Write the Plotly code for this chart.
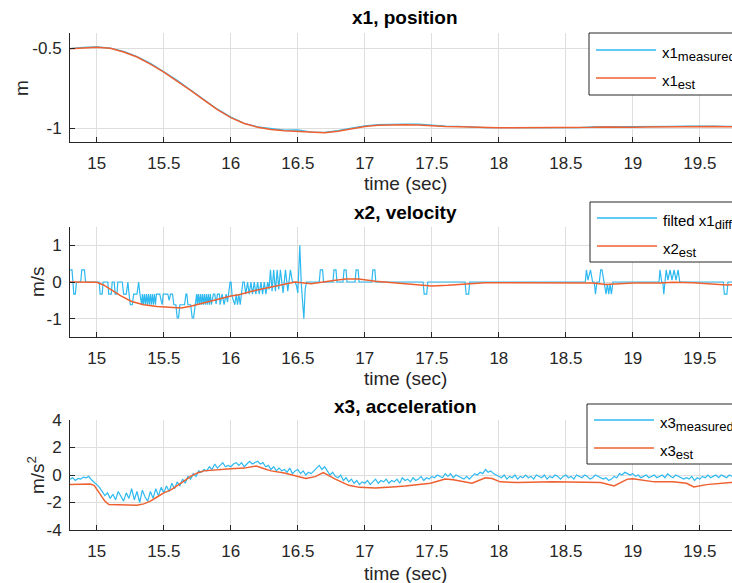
import plotly.graph_objects as go
import numpy as np

W, H = 732, 583
BLUE = "#2EB9F0"
ORANGE = "#EE6030"
DARK = "#262626"
GRID = "#dedede"
FONT = "Liberation Sans, Arial, sans-serif"

# ---------------- x1, position ----------------
pos_t = [14.8, 14.9, 15.0, 15.1, 15.2, 15.3, 15.4, 15.5, 15.6, 15.7, 15.8, 15.9,
         16.0, 16.1, 16.2, 16.3, 16.4, 16.5, 16.6, 16.7, 16.8, 16.9, 17.0, 17.1,
         17.2, 17.3, 17.4, 17.5, 17.6, 17.7, 17.8, 17.9, 18.0, 18.1, 18.2, 18.3,
         18.4, 18.5, 18.6, 18.7, 18.8, 18.9, 19.0, 19.1, 19.2, 19.3, 19.4, 19.5,
         19.6, 19.7, 19.8]
x1_est = [-0.505, -0.498, -0.495, -0.502, -0.525, -0.556, -0.600, -0.650, -0.705, -0.765,
          -0.825, -0.885, -0.935, -0.972, -0.995, -1.010, -1.017, -1.020, -1.027, -1.030,
          -1.020, -1.003, -0.990, -0.982, -0.979, -0.980, -0.981, -0.987, -0.990, -0.992,
          -0.995, -0.998, -0.999, -0.999, -0.999, -0.999, -0.999, -0.999, -0.999, -0.996,
          -0.993, -0.995, -0.995, -0.994, -0.993, -0.992, -0.990, -0.989, -0.990, -0.992,
          -0.993]
x1_meas = [-0.503, -0.495, -0.493, -0.500, -0.521, -0.553, -0.596, -0.647, -0.702, -0.762,
           -0.822, -0.882, -0.932, -0.970, -0.992, -1.004, -1.013, -1.012, -1.025, -1.027,
           -1.016, -1.000, -0.986, -0.978, -0.975, -0.976, -0.976, -0.984, -0.988, -0.989,
           -0.994, -0.997, -0.998, -0.998, -0.998, -0.998, -0.998, -0.998, -0.997, -0.992,
           -0.992, -0.993, -0.993, -0.992, -0.990, -0.990, -0.988, -0.987, -0.988, -0.990,
           -0.991]

# ---------------- x2, velocity ----------------
vel_t = [14.800, 14.815, 14.822, 14.828, 14.840, 14.848, 14.880, 14.888, 14.908, 14.916,
         15.018, 15.025, 15.040, 15.047, 15.082, 15.089, 15.108, 15.115, 15.130, 15.137,
         15.150, 15.157, 15.190, 15.200, 15.220, 15.232, 15.240, 15.250, 15.265, 15.275,
         15.300, 15.312, 15.322, 15.335,
         15.3400, 15.3475, 15.3550, 15.3625, 15.3700, 15.3775, 15.3850, 15.3925,
         15.4000, 15.4075, 15.4150, 15.4225, 15.4300, 15.4375, 15.4450,
         15.450, 15.470, 15.480, 15.488, 15.495, 15.530, 15.540, 15.550, 15.565, 15.575,
         15.590, 15.600, 15.610, 15.620, 15.655, 15.665, 15.672, 15.680, 15.700, 15.712,
         15.722, 15.735, 15.745,
         15.7500, 15.7575, 15.7650, 15.7725, 15.7800, 15.7875, 15.7950, 15.8025,
         15.8100, 15.8175, 15.8250, 15.8325, 15.8400, 15.8475, 15.8550,
         15.870, 15.880, 15.890, 15.900, 15.915, 15.920, 15.935, 15.950, 15.965, 15.975,
         15.985, 15.995, 16.002, 16.010, 16.030, 16.040, 16.050, 16.060, 16.070, 16.080,
         16.090, 16.100, 16.112, 16.125, 16.137, 16.150, 16.162, 16.175, 16.187, 16.200,
         16.212, 16.225, 16.237, 16.250, 16.262, 16.275, 16.285, 16.296, 16.308, 16.320,
         16.333, 16.346, 16.358, 16.370, 16.390, 16.408, 16.425, 16.445, 16.460, 16.480,
         16.490, 16.500, 16.515, 16.525, 16.532, 16.545, 16.555, 16.565,
         16.660, 16.668, 16.685, 16.692, 16.762, 16.770, 16.785, 16.792,
         16.837, 16.845, 16.860, 16.867, 16.927, 16.935, 16.950, 16.957,
         17.052, 17.060, 17.075, 17.082, 17.435, 17.443, 17.462, 17.470,
         17.748, 17.756, 17.775, 17.783,
         18.645, 18.654, 18.665, 18.684, 18.700, 18.712, 18.721, 18.732, 18.750, 18.760,
         18.770, 18.785, 18.800, 18.810, 18.820, 18.830, 18.840, 18.852,
         19.195, 19.203, 19.215, 19.224, 19.231, 19.240, 19.249, 19.262, 19.278, 19.292,
         19.308, 19.322, 19.338, 19.350,
         19.675, 19.683, 19.702, 19.710, 19.800]
vel_meas = [0.33, 0.33, 0.0, -0.33, -0.33, 0.0, 0.0, 0.33, 0.33, 0.0,
            0.0, -0.33, -0.33, 0.0, 0.0, -0.33, -0.33, 0.0, 0.0, -0.33,
            -0.33, 0.0, 0.0, -0.33, -0.33, 0.0, -0.30, -0.62, -0.62, -0.33,
            -0.33, 0.0, -0.33, -0.62,
            -0.33, -0.62, -0.33, -0.62, -0.33, -0.62, -0.33, -0.62,
            -0.33, -0.62, -0.33, -0.62, -0.33, -0.62, -0.33,
            -0.33, -0.33, -0.50, -0.62, -0.33, -0.33, -0.50, -0.33, -0.33, -0.62,
            -0.62, -0.98, -0.98, -0.62, -0.62, -0.33, -0.33, -0.62, -0.62, -0.98,
            -0.98, -0.62, -0.33,
            -0.62, -0.33, -0.62, -0.33, -0.62, -0.33, -0.62, -0.33,
            -0.62, -0.33, -0.62, -0.33, -0.62, -0.33, -0.62,
            -0.33, -0.33, -0.60, -0.33, -0.33, -0.62, -0.33, -0.62, -0.33, -0.55,
            -0.33, 0.0, 0.0, -0.40, -0.62, -0.33, -0.62, -0.33, -0.62, -0.33,
            0.0, 0.0, -0.33, 0.0, -0.33, 0.0, -0.33, 0.0, -0.33, 0.0,
            -0.33, 0.0, -0.33, 0.0, -0.33, 0.0, -0.20, 0.33, -0.25, 0.33,
            -0.25, 0.33, -0.20, 0.33, -0.30, 0.33, -0.25, 0.33, 0.0, 0.0,
            -0.10, -0.30, 1.0, 0.0, -0.30, -1.0, -0.20, 0.0,
            0.0, 0.33, 0.33, 0.0, 0.0, 0.33, 0.33, 0.0,
            0.0, 0.33, 0.33, 0.0, 0.0, 0.33, 0.33, 0.0,
            0.0, 0.33, 0.33, 0.0, 0.0, -0.33, -0.33, 0.0,
            0.0, -0.33, -0.33, 0.0,
            0.0, 0.33, 0.05, 0.33, 0.0, 0.0, -0.33, 0.0, 0.0, 0.33,
            0.33, 0.0, -0.33, -0.05, -0.33, -0.05, -0.33, 0.0,
            0.0, 0.33, 0.0, 0.0, -0.33, 0.0, 0.33, 0.05, 0.33, 0.05,
            0.33, 0.05, 0.33, 0.0,
            0.0, -0.33, -0.33, 0.0, 0.0]

vel_est_t = [14.8, 14.95, 15.0, 15.05, 15.11, 15.18, 15.26, 15.35, 15.45, 15.535,
             15.63, 15.7, 15.784, 15.9, 16.0, 16.06, 16.15, 16.284, 16.4, 16.48,
             16.6, 16.68, 16.78, 16.86, 16.955, 17.08, 17.3, 17.5, 17.62, 17.75,
             17.9, 18.0, 18.5, 18.7, 18.8, 18.9, 19.0, 19.2, 19.3, 19.45,
             19.6, 19.7, 19.8]
vel_est = [0.0, 0.0, -0.01, -0.08, -0.22, -0.38, -0.53, -0.62, -0.67, -0.69,
           -0.71, -0.66, -0.58, -0.47, -0.38, -0.35, -0.26, -0.15, -0.06, 0.0,
           -0.05, 0.0, 0.05, 0.08, 0.08, 0.02, -0.05, -0.11, -0.09, -0.05,
           -0.02, -0.02, -0.02, -0.03, -0.07, -0.05, -0.03, -0.03, -0.01, -0.02,
           -0.05, -0.08, -0.06]

# ---------------- x3, acceleration ----------------
acc_t0, acc_dt = 14.80, 0.02
acc_meas = [-0.3, -0.2, -0.4, -0.25, -0.3, -0.15, -0.2, -0.1, -0.35, -0.5,
            -0.7, -0.9, -1.2, -1.5, -1.3, -1.7, -1.4, -1.8, -1.2, -1.6,
            -1.9, -1.3, -1.7, -1.0, -1.8, -1.2, -2.0, -1.1, -1.6, -1.9,
            -1.2, -1.7, -1.0, -1.5, -0.9, -1.3, -0.8, -1.2, -0.6, -1.0,
            -0.5, -0.8, -0.3, -0.6, -0.1, -0.3, 0.1, -0.1, 0.3, 0.2,
            0.4, 0.3, 0.6, 0.4, 0.8, 0.5, 0.7, 0.9, 0.6, 0.7,
            0.6, 0.8, 0.9, 0.7, 0.9, 0.6, 0.8, 1.0, 0.8, 0.9,
            1.0, 0.8, 0.9, 0.6, 0.7, 0.4, 0.6, 0.3, 0.5, 0.3,
            0.4, 0.2, 0.5, 0.1, 0.3, 0.4, 0.1, 0.3, 0.0, 0.2,
            0.1, 0.3, 0.5, 0.7, 0.4, 0.6, 0.3, 0.0, 0.2, -0.1,
            -0.2, 0.0, -0.4, -0.2, -0.5, -0.3, -0.6, -0.4, -0.7, -0.5,
            -0.6, -0.4, -0.7, -0.5, -0.3, -0.6, -0.4, -0.5, -0.3, -0.6,
            -0.4, -0.5, -0.3, -0.6, -0.2, -0.4, -0.3, -0.5, -0.2, -0.4,
            -0.3, -0.1, -0.4, -0.2, -0.3, -0.1, -0.2, 0.0, -0.1, -0.2,
            0.1, -0.1, 0.1, -0.2, 0.0, -0.1, -0.2, -0.3, -0.1, -0.3,
            -0.1, 0.1, 0.0, 0.2, 0.1, 0.4, 0.2, 0.3, 0.1, 0.0,
            -0.1, -0.2, 0.0, -0.3, -0.1, -0.2, 0.0, -0.3, -0.1, -0.2,
            0.0, -0.2, -0.1, -0.3, 0.0, -0.1, -0.2, 0.0, -0.3, -0.1,
            -0.2, 0.0, -0.1, -0.3, -0.1, 0.0, -0.2, -0.1, -0.3, 0.0,
            -0.1, -0.2, 0.0, -0.1, -0.3, -0.2, 0.0, -0.1, -0.2, -0.3,
            -0.2, -0.4, -0.3, -0.1, -0.2, 0.1, 0.0, 0.2, 0.1, 0.0,
            0.1, -0.1, 0.0, -0.2, -0.1, 0.0, -0.2, -0.1, 0.0, -0.2,
            -0.1, 0.0, -0.2, 0.1, -0.1, -0.2, 0.0, -0.1, -0.2, -0.3,
            -0.2, -0.3, -0.1, -0.4, -0.2, -0.3, -0.1, -0.2, 0.0, -0.2,
            -0.1, 0.0, -0.2, 0.0, -0.1, -0.2, 0.0, -0.1, -0.2, 0.0,
            -0.1]
acc_meas_t = list(np.round(acc_t0 + acc_dt * np.arange(len(acc_meas)), 3))

acc_est_t = [14.80, 14.95, 14.98, 15.02, 15.06, 15.09, 15.15, 15.20, 15.30, 15.35,
             15.40, 15.45, 15.50, 15.55, 15.60, 15.65, 15.70, 15.75, 15.80, 15.90,
             16.00, 16.10, 16.19, 16.25, 16.30, 16.40, 16.48, 16.56, 16.63, 16.69,
             16.78, 16.88, 16.96, 17.08, 17.23, 17.30, 17.49, 17.60, 17.66, 17.76,
             17.80, 17.90, 17.95, 18.01, 18.14, 18.40, 18.66, 18.76, 18.86, 18.96,
             19.00, 19.16, 19.30, 19.40, 19.455, 19.55, 19.73, 19.80]
acc_est = [-0.70, -0.65, -0.75, -1.30, -1.90, -2.15, -2.15, -2.20, -2.20, -2.10,
           -1.90, -1.60, -1.30, -1.10, -0.80, -0.45, -0.10, 0.15, 0.30, 0.40,
           0.45, 0.50, 0.65, 0.45, 0.30, 0.15, -0.07, -0.25, -0.12, 0.18,
           -0.30, -0.75, -0.90, -0.95, -0.85, -0.80, -0.60, -0.30, -0.35, -0.55,
           -0.60, -0.20, -0.25, -0.50, -0.55, -0.50, -0.50, -0.55, -0.80, -0.30,
           -0.27, -0.50, -0.50, -0.60, -0.87, -0.70, -0.55, -0.50]

# ---------------- layout helpers ----------------
X_RANGE = [14.8, 19.74]
PLOT_L = 70
panels = [  # (top px, bottom px, y range, tick vals, tick text)
    (33, 142, [-1.0875, -0.406], [-1, -0.5], ["-1", "-0.5"]),
    (227, 337, [-1.5, 1.5], [-1, 0, 1], ["-1", "0", "1"]),
    (420, 530, [-4, 4], [-4, -2, 0, 2, 4], ["-4", "-2", "0", "2", "4"]),
]
titles = ["x1, position", "x2, velocity", "x3, acceleration"]
title_y = [18, 212, 406]
xlabel_y = [184, 378, 573]
ylabels = [("m", 22, 88), ("m/s", 37, 282), ("m/s<sup>2</sup>", 36, 475)]
legend_box = [(589, 33, 95, 50, 78), (590, 202, 262, 218, 246), (587, 404, 464, 420, 448)]
SUB = "<sub><span style='font-size:13px'>%s</span></sub>"
legend_names = [("x1" + SUB % "measured", "x1" + SUB % "est"),
                ("filted x1" + SUB % "diff", "x2" + SUB % "est"),
                ("x3" + SUB % "measured", "x3" + SUB % "est")]

def pxx(x):
    return x / W

def pxy(y):
    return 1 - y / H

fig = go.Figure()
series = [
    (pos_t, x1_meas, pos_t, x1_est),
    (vel_t, vel_meas, vel_est_t, vel_est),
    (acc_meas_t, acc_meas, acc_est_t, acc_est),
]
for i, (tm, ym, te, ye) in enumerate(series):
    xa = "x" if i == 0 else f"x{i+1}"
    ya = "y" if i == 0 else f"y{i+1}"
    fig.add_trace(go.Scatter(x=tm, y=ym, mode="lines", xaxis=xa, yaxis=ya,
                             line=dict(color=BLUE, width=1.2), showlegend=False))
    fig.add_trace(go.Scatter(x=te, y=ye, mode="lines", xaxis=xa, yaxis=ya,
                             line=dict(color=ORANGE, width=1.5), showlegend=False))

layout = dict(width=W, height=H, margin=dict(l=0, r=0, t=0, b=0, pad=0, autoexpand=False),
              paper_bgcolor="white", plot_bgcolor="white",
              font=dict(family=FONT, size=17, color=DARK), showlegend=False)
annotations = []
shapes = []
for i, (top, bot, yr, tv, tt) in enumerate(panels):
    sx = "xaxis" if i == 0 else f"xaxis{i+1}"
    sy = "yaxis" if i == 0 else f"yaxis{i+1}"
    ya = "y" if i == 0 else f"y{i+1}"
    xa = "x" if i == 0 else f"x{i+1}"
    layout[sx] = dict(domain=[pxx(PLOT_L), 1.0], range=X_RANGE, anchor=ya,
                      tick0=15, dtick=0.5, ticks="inside", ticklen=5, tickcolor=DARK,
                      showline=True, linecolor=DARK, linewidth=1, showgrid=True,
                      gridcolor=GRID, gridwidth=1, zeroline=False, automargin=False,
                      tickfont=dict(size=17, color=DARK), ticklabelstandoff=6)
    layout[sy] = dict(domain=[pxy(bot), pxy(top)], range=yr, anchor=xa,
                      tickvals=tv, ticktext=tt, ticks="inside", ticklen=5, tickcolor=DARK,
                      showline=True, linecolor=DARK, linewidth=1, showgrid=True,
                      gridcolor=GRID, gridwidth=1, zeroline=False, automargin=False,
                      tickfont=dict(size=17, color=DARK), ticklabelstandoff=4)
    annotations.append(dict(text=f"<b>{titles[i]}</b>", x=pxx(405), y=pxy(title_y[i]),
                            xref="paper", yref="paper", xanchor="center", yanchor="middle",
                            showarrow=False, font=dict(size=19, color="black")))
    annotations.append(dict(text="time (sec)", x=pxx(405), y=pxy(xlabel_y[i]),
                            xref="paper", yref="paper", xanchor="center", yanchor="middle",
                            showarrow=False, font=dict(size=19, color=DARK)))
    lab, lx, ly = ylabels[i]
    annotations.append(dict(text=lab, x=pxx(lx), y=pxy(ly), xref="paper", yref="paper",
                            xanchor="center", yanchor="middle", textangle=-90,
                            showarrow=False, font=dict(size=19, color=DARK)))
    bx, btop, bbot, l1, l2 = legend_box[i]
    shapes.append(dict(type="rect", xref="paper", yref="paper", x0=pxx(bx), x1=1.2,
                       y0=pxy(bbot), y1=pxy(btop), line=dict(color=DARK, width=1),
                       fillcolor="white", layer="above"))
    for ly_, col, name in ((l1, BLUE, legend_names[i][0]), (l2, ORANGE, legend_names[i][1])):
        shapes.append(dict(type="line", xref="paper", yref="paper", x0=pxx(bx + 7),
                           x1=pxx(bx + 67), y0=pxy(ly_), y1=pxy(ly_),
                           line=dict(color=col, width=1.6), layer="above"))
        annotations.append(dict(text=name, x=pxx(bx + 71), y=pxy(ly_ + 4),
                                xref="paper", yref="paper", xanchor="left",
                                yanchor="middle", showarrow=False,
                                font=dict(size=15, color="black")))
layout["annotations"] = annotations
layout["shapes"] = shapes
fig.update_layout(**layout)
fig.write_html("out.html")
